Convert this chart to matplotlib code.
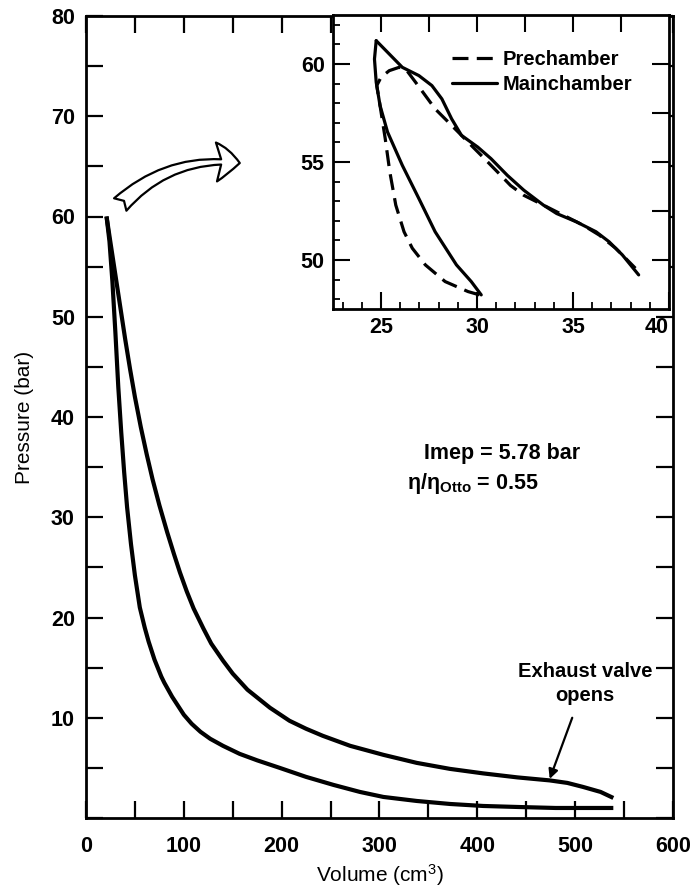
import matplotlib
matplotlib.use("Agg")
import matplotlib.pyplot as plt
from matplotlib.patches import FancyArrowPatch
from matplotlib.ticker import MultipleLocator

plt.rcParams['font.family'] = ['Liberation Sans', 'DejaVu Sans']
plt.rcParams['mathtext.fontset'] = 'custom'
plt.rcParams['mathtext.rm'] = 'Liberation Sans'
plt.rcParams['mathtext.it'] = 'Liberation Sans:italic'
plt.rcParams['mathtext.bf'] = 'Liberation Sans:bold'

# ---------------- data ----------------
# main p-V diagram: expansion (upper) curve, TDC -> BDC
exp_v = [21, 25, 30, 35, 40, 45, 50, 56, 62, 68, 75, 83, 90, 96, 103, 110, 120, 128,
         140, 150, 165, 188, 208, 225, 242, 270, 304, 338, 372, 406, 441, 474, 492,
         508, 526, 539]
exp_p = [60, 57.4, 54.2, 51.0, 47.8, 44.8, 42.0, 39.0, 36.3, 33.8, 31.2, 28.5, 26.3,
         24.5, 22.6, 20.9, 18.9, 17.4, 15.7, 14.4, 12.8, 11.0, 9.7, 8.9, 8.2, 7.2,
         6.3, 5.5, 4.9, 4.45, 4.05, 3.75, 3.5, 3.1, 2.6, 2.0]
# compression (lower) curve, BDC -> TDC
comp_v = [539, 480, 441, 406, 372, 338, 304, 280, 253, 225, 198, 175, 157, 140, 127,
          117, 108, 100, 96, 88, 80, 77, 70, 64, 60, 55, 50, 46, 42, 39, 36, 33, 30,
          27, 24, 21]
comp_p = [1.0, 1.0, 1.1, 1.2, 1.4, 1.7, 2.1, 2.6, 3.3, 4.1, 5.0, 5.75, 6.4, 7.2, 7.9,
          8.6, 9.4, 10.3, 10.9, 12.1, 13.5, 14.1, 15.8, 17.6, 19.0, 21.0, 24.2, 27.3,
          31.0, 34.5, 38.5, 43.0, 48.5, 53.5, 57.5, 60]

# inset: main chamber (solid)
mc_comp_v = [30.22, 29.70, 28.93, 27.82, 26.97, 26.11, 25.34, 24.95, 24.75, 24.66, 24.75]
mc_comp_p = [48.22, 48.9, 49.75, 51.44, 53.14, 54.83, 56.53, 57.88, 59.07, 60.25, 61.19]
mc_exp_v = [24.75, 25.43, 26.11, 26.97, 27.65, 28.17, 28.68, 29.19, 30.04, 30.73, 31.58,
            32.44, 33.46, 34.15, 35.17, 36.2, 36.88, 37.57, 38.42]
mc_exp_p = [61.19, 60.51, 59.83, 59.41, 58.9, 58.22, 57.2, 56.36, 55.76, 55.17, 54.32,
            53.56, 52.8, 52.37, 51.95, 51.44, 50.93, 50.26, 49.24]
# inset: prechamber (dashed), one continuous path
pc_v = [30.13, 29.53, 28.34, 27.31, 26.63, 26.2, 25.77, 25.46, 25.22, 24.95, 24.78,
        25.0, 25.43, 25.94, 26.28, 26.8, 27.31, 27.82, 28.34, 29.02, 29.7, 30.39,
        31.07, 31.75, 32.44, 33.46, 34.49, 35.52, 36.37, 37.22, 38.25]
pc_p = [48.22, 48.39, 48.9, 49.75, 50.6, 51.44, 52.8, 54.49, 56.19, 57.88, 58.9,
        59.32, 59.66, 59.83, 59.75, 59.07, 58.39, 57.71, 57.2, 56.53, 55.85, 55.17,
        54.49, 53.8, 53.3, 52.8, 52.29, 51.78, 51.27, 50.6, 49.58]

main_xticks = [0, 100, 200, 300, 400, 500, 600]
main_yticks = [10, 20, 30, 40, 50, 60, 70, 80]
inset_xticks = [25, 30, 35, 40]
inset_yticks = [50, 55, 60]

TICK_FS = 15.5

# ---------------- figure ----------------
fig = plt.figure(figsize=(6.94, 8.92), dpi=100)
ax = fig.add_axes([86/694, 1-818/892, 587/694, 802/892])

lw_curve = 3.0
ax.plot(exp_v, exp_p, color='black', lw=lw_curve, solid_capstyle='butt',
        solid_joinstyle='round', zorder=3)
ax.plot(comp_v, comp_p, color='black', lw=lw_curve, solid_capstyle='butt',
        solid_joinstyle='round', zorder=3)

ax.set_xlim(0, 600)
ax.set_ylim(0, 80)
ax.set_xticks(main_xticks)
ax.set_yticks(main_yticks)
ax.xaxis.set_minor_locator(MultipleLocator(50))
ax.yaxis.set_minor_locator(MultipleLocator(5))
for which in ('major', 'minor'):
    ax.tick_params(which=which, direction='in', length=12, width=1.6,
                   top=True, right=True, bottom=True, left=True)
ax.tick_params(axis='y', which='major', labelsize=TICK_FS, pad=8)
ax.tick_params(axis='x', which='major', labelsize=TICK_FS, pad=13)
for lab in ax.get_xticklabels() + ax.get_yticklabels():
    lab.set_fontweight('bold')
for s in ax.spines.values():
    s.set_linewidth(2.0)

ax.set_xlabel('Volume (cm$^{3}$)', fontsize=15)
ax.set_ylabel('Pressure (bar)', fontsize=15)
ax.xaxis.set_label_coords(0.5, -0.055)
ax.yaxis.set_label_coords(-0.088, 0.5)

ax.text(345, 36.4, 'Imep = 5.78 bar', fontsize=15.5, fontweight='bold',
        ha='left', va='center')
ax.text(328, 33.4, 'η/η$_{\\mathbf{Otto}}$ = 0.55', fontsize=15.5,
        fontweight='bold', ha='left', va='center')

ax.text(510, 13.4, 'Exhaust valve\nopens', fontsize=14.5, fontweight='bold',
        ha='center', va='center', linespacing=1.3)
ax.annotate('', xy=(474, 3.9), xytext=(497, 10.0),
            arrowprops=dict(arrowstyle='-|>', color='black', lw=1.6,
                            mutation_scale=14, shrinkA=0, shrinkB=0))

# big hollow curved arrow pointing to the inset
arr = FancyArrowPatch((33, 61.0), (160, 65.3),
                      connectionstyle='arc3,rad=-0.25',
                      arrowstyle='fancy,head_length=0.6,head_width=1.0,tail_width=0.45',
                      mutation_scale=28, facecolor='white', edgecolor='black',
                      lw=1.6, zorder=4)
ax.add_patch(arr)

# ---------------- inset ----------------
ins = fig.add_axes([333/694, 1-309/892, 336/694, 294/892], zorder=5)
ins.plot(mc_comp_v, mc_comp_p, color='black', lw=2.3, solid_capstyle='round')
ins.plot(mc_exp_v, mc_exp_p, color='black', lw=2.3, solid_capstyle='round',
         label='Mainchamber')
ins.plot(pc_v, pc_p, color='black', lw=2.3, dashes=(5, 2.6),
         label='Prechamber')
ins.set_xlim(22.5, 40)
ins.set_ylim(47.5, 62.5)
ins.set_xticks(inset_xticks)
ins.set_yticks(inset_yticks)
ins.xaxis.set_minor_locator(MultipleLocator(1))
ins.yaxis.set_minor_locator(MultipleLocator(1))
ins.tick_params(which='major', direction='in', length=12, width=1.5,
                top=False, right=False, labelsize=TICK_FS, pad=6)
ins.tick_params(which='minor', direction='in', length=5, width=1.3,
                top=False, right=False)
for lab in ins.get_xticklabels() + ins.get_yticklabels():
    lab.set_fontweight('bold')
ins.get_xticklabels()[-1].set_horizontalalignment('right')
for s in ins.spines.values():
    s.set_linewidth(2.0)
sec_x = ins.secondary_xaxis('top')
sec_x.set_xticks([25, 27.5, 30, 32.5, 35, 37.5])
sec_x.tick_params(direction='in', length=12, width=1.5, labeltop=False)
sec_y = ins.secondary_yaxis('right')
sec_y.set_yticks([50, 52.5, 55, 57.5, 60])
sec_y.tick_params(direction='in', length=12, width=1.5, labelright=False)

h, l = ins.get_legend_handles_labels()
order = [l.index('Prechamber'), l.index('Mainchamber')]
leg = ins.legend([h[i] for i in order], [l[i] for i in order],
                 loc='upper left', bbox_to_anchor=(0.325, 0.915), frameon=False,
                 handlelength=2.2, handletextpad=0.3, labelspacing=0.3,
                 borderpad=0, prop={'weight': 'bold', 'size': 14.5})

fig.savefig('out.png', dpi=100)
